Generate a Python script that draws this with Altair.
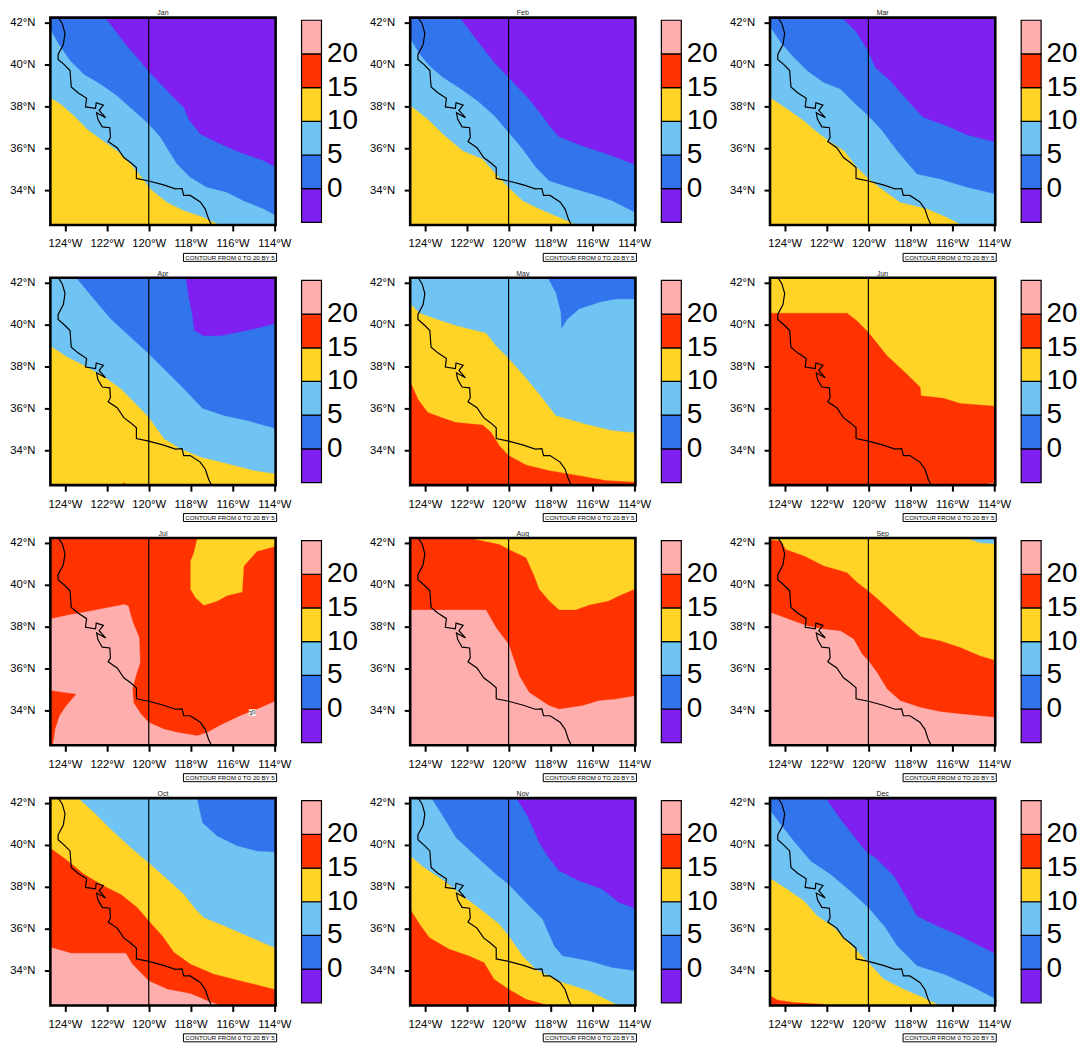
import altair as alt
import pandas as pd

FONT = "Liberation Sans"
COLORS = ["#7f1ff0", "#3274ec", "#70c4f4", "#ffd426", "#ff3300", "#ffaeae"]
BAR_LABELS = ["0", "5", "10", "15", "20"]
LON_TICKS = [-124, -122, -120, -118, -116, -114]
LAT_TICKS = [34, 36, 38, 40, 42]
LON_DOMAIN = [-124.70, -113.94]
LAT_DOMAIN = [32.34, 42.23]
W, E, S, N = -125.0, -113.5, 32.0, 42.5

COAST = [(-124.33,42.25),(-124.13,41.94),(-124.0,41.48),(-124.08,40.95),(-124.33,40.48),(-124.33,40.24),
 (-124.05,40.0),(-123.76,39.71),(-123.73,39.29),(-123.70,38.92),(-123.38,38.65),(-122.97,38.38),(-123.02,37.97),
 (-122.54,37.90),(-122.51,38.17),(-122.17,38.06),(-122.37,37.81),(-122.06,37.46),(-122.49,37.70),(-122.43,37.38),
 (-122.22,37.02),(-121.86,36.98),(-121.83,36.51),(-121.94,36.32),(-121.51,36.03),(-121.19,35.56),(-120.87,35.32),
 (-120.59,35.08),(-120.59,34.56),(-120.0,34.44),(-119.29,34.25),(-118.73,34.06),(-118.41,34.08),(-118.33,33.75),
 (-118.02,33.75),(-117.54,33.44),(-117.30,33.10),(-117.14,32.62),(-116.98,32.29)]

JAN_0 = [(-122.11,42.25),(-121.59,41.59),(-121.11,40.95),(-120.48,40.24),(-120,39.65),(-119.29,38.92),(-118.81,38.41),(-118.33,37.94),(-118.10,37.38),(-117.54,36.67),(-116.75,36.27),(-115.63,35.79),(-114.52,35.40),(-113.92,35.08)]
JAN_5 = [(-124.71,41.67),(-124.29,40.95),(-123.81,40.24),(-123.10,39.52),(-122.30,39.05),(-121.51,38.49),(-120.71,37.78),(-120,37.14),(-119.44,36.51),(-119.05,35.87),(-118.65,35.24),(-118.02,34.60),(-117.22,34.13),(-116.27,33.89),(-115.48,33.49),(-114.52,33.10),(-113.92,32.78)]
JAN_10 = [(-124.71,38.41),(-124.21,38.10),(-123.57,37.54),(-122.94,36.90),(-122.30,36.43),(-121.51,35.87),(-120.87,35.24),(-120.40,34.68),(-119.92,34.05),(-119.13,33.41),(-118.33,33.02),(-117.38,32.70),(-116.51,32.28)]

FEB_0 = [(-122.35,42.25),(-121.79,41.51),(-121.24,40.79),(-120.68,40.08),(-120,39.37),(-119.02,38.33),(-118.46,37.62),(-117.98,36.98),(-117.59,36.54),(-116.48,36.11),(-115.05,35.63),(-113.97,35.21)]
FEB_5 = [(-124.68,41.19),(-124.25,40.48),(-123.78,39.92),(-123.14,39.37),(-122.27,38.81),(-121.48,38.25),(-120.68,37.54),(-120,36.75),(-119.33,35.95),(-118.70,35.08),(-118.06,34.44),(-117.11,34.13),(-116,33.81),(-115.05,33.49),(-113.97,32.94)]
FEB_10 = [(-124.68,38.02),(-123.86,37.38),(-123.14,36.67),(-122.19,35.87),(-121.24,35.48),(-120.60,34.76),(-120,34.13),(-119.33,33.49),(-118.54,33.10),(-117.59,32.70),(-116.63,32.28)]

MAR_0 = [(-121.29,42.25),(-120.62,41.59),(-120.06,40.71),(-119.67,39.84),(-118.95,39.21),(-118.32,38.49),(-117.76,37.86),(-117.37,37.46),(-116.25,37.06),(-115.30,36.63),(-113.90,36.27)]
MAR_5 = [(-124.67,41.75),(-124.19,41.03),(-123.63,40.40),(-122.92,39.68),(-122.13,39.13),(-121.33,38.81),(-120.62,38.10),(-120,37.54),(-119.35,36.83),(-118.63,35.87),(-117.68,34.76),(-116.57,34.52),(-115.30,34.13),(-113.90,33.81)]
MAR_10 = [(-124.67,38.38),(-123.87,37.86),(-123.08,37.30),(-122.44,36.75),(-121.89,36.35),(-121.17,35.87),(-120.54,35.08),(-119.98,34.52),(-119.27,33.97),(-118.48,33.41),(-117.21,33.10),(-116.25,32.70),(-115.46,32.28)]

APR_0 = [(-118.24,42.25),(-118.08,41.21),(-117.92,40.41),(-117.84,39.70),(-117.37,39.46),(-116.57,39.46),(-115.62,39.65),(-114.83,39.81),(-113.90,40.06)]
APR_5 = [(-123.48,42.25),(-122.76,41.37),(-121.81,40.25),(-120.86,39.38),(-120,38.59),(-119.27,37.87),(-118.32,36.92),(-117.44,36.0),(-116.41,35.65),(-115.30,35.41),(-113.90,35.02)]
APR_10 = [(-124.67,38.95),(-123.87,38.43),(-123.08,38.03),(-122.21,37.56),(-121.33,36.92),(-120.54,36.13),(-120,35.57),(-119.27,34.54),(-118.48,34.06),(-117.52,33.67),(-116.41,33.40),(-114.98,33.03),(-113.90,32.87)]
APR_SPOT = [(-121.33,32.30),(-121.17,32.46),(-121.02,32.30)]

MAY_5 = [(-118.14,42.25),(-117.75,41.52),(-117.51,40.57),(-117.48,39.78),(-117.19,40.25),(-116.63,40.73),(-115.68,41.05),(-114.89,41.21),(-113.90,41.21)]
MAY_10 = [(-124.68,40.97),(-124.25,40.54),(-123.46,40.25),(-122.51,39.94),(-121.08,39.59),(-120.60,38.98),(-120,38.38),(-119.33,37.63),(-118.54,36.68),(-117.75,35.65),(-116.32,35.25),(-115.05,34.94),(-113.90,34.83)]
MAY_15 = [(-124.68,37.24),(-124.33,36.44),(-123.86,35.81),(-123.14,35.54),(-122.51,35.33),(-121.24,35.21),(-120.84,34.86),(-120.44,34.22),(-120,33.75),(-119.17,33.30),(-118.06,33.03),(-116.63,32.79),(-115.37,32.56),(-113.90,32.48)]

JUN_15 = [(-124.67,40.54),(-121.02,40.54),(-120.54,40.17),(-120,39.62),(-119.11,38.51),(-118.16,37.63),(-117.52,37.0),(-117.49,36.60),(-116.41,36.48),(-115.62,36.24),(-113.90,36.10)]
JUN_SPOT = [(-114.25,32.30),(-114.25,32.42),(-113.90,32.42),(-113.90,32.30)]

JUL_BLOB = [(-117.68,42.5),(-117.68,42.22),(-117.84,41.52),(-118.0,41.13),(-118.0,39.78),(-117.76,39.38),(-117.37,39.02),(-116.73,39.22),(-116.25,39.49),(-115.54,39.65),(-115.46,40.89),(-114.83,41.60),(-113.90,41.84),(-113.5,41.84),(-113.5,42.5)]
JUL_20 = [(-124.67,38.38),(-123.87,38.54),(-122.76,38.75),(-121.97,38.90),(-121.17,39.06),(-120.98,38.98),(-120.78,38.27),(-120.46,37.48),(-120.41,36.29),(-120.62,35.65),(-120.78,35.02),(-120.73,34.38),(-120.38,33.83),(-120,33.43),(-119.27,33.11),(-118.63,32.95),(-117.68,32.79),(-117.21,32.95),(-116.57,33.30),(-115.62,33.75),(-114.83,34.06),(-113.90,34.46)]
JUL_NOTCH = [(-125,34.94),(-124.67,34.94),(-123.48,34.78),(-123.95,34.22),(-124.27,33.75),(-124.48,33.11),(-124.54,32.63),(-124.67,32.0),(-125,32.0)]

AUG_15 = [(-122.03,42.25),(-121.24,42.08),(-120.44,41.92),(-120,41.68),(-119.17,41.29),(-118.78,40.41),(-118.54,39.78),(-118.06,39.22),(-117.59,38.79),(-116.79,38.79),(-116.16,39.02),(-115.21,39.22),(-114.73,39.46),(-113.90,39.81)]
AUG_20 = [(-124.68,38.79),(-121.08,38.79),(-120.60,37.95),(-120,37.16),(-119.73,36.37),(-119.49,35.65),(-119.02,34.86),(-118.06,34.22),(-117.59,34.06),(-116.48,34.22),(-115.68,34.46),(-114.89,34.54),(-113.90,34.70)]

SEP_10 = [(-115.25,42.5),(-115.25,42.2),(-114.67,42.0),(-113.9,41.95),(-113.5,41.95),(-113.5,42.5)]
SEP_15 = [(-124.67,42.13),(-124.19,42.08),(-123.95,41.68),(-123.08,41.37),(-122.13,40.89),(-121.02,40.57),(-120.54,40.10),(-120,39.70),(-119.27,39.06),(-118.32,38.19),(-117.52,37.52),(-116.57,37.32),(-115.62,37.0),(-114.67,36.60),(-113.90,36.37)]
SEP_20 = [(-124.67,38.67),(-123.71,38.32),(-122.92,38.03),(-122.13,37.87),(-121.33,37.79),(-120.70,37.40),(-120.30,36.68),(-120,36.37),(-119.59,35.81),(-119.11,35.02),(-118.48,34.46),(-117.52,34.14),(-116.57,33.94),(-115.62,33.83),(-113.90,33.67)]

OCT_5 = [(-117.71,42.25),(-117.44,41.05),(-116.73,40.41),(-115.78,39.94),(-114.83,39.70),(-113.90,39.65)]
OCT_10 = [(-123.40,42.25),(-122.60,41.52),(-121.81,40.73),(-120.86,39.86),(-120,39.14),(-119.11,38.35),(-118.32,37.63),(-117.76,36.92),(-117.37,36.52),(-116.41,36.13),(-115.30,35.65),(-113.90,35.05)]
OCT_15 = [(-124.67,39.81),(-123.95,39.30),(-123.08,38.59),(-122.13,38.03),(-121.33,37.63),(-120.54,37.0),(-120,36.37),(-119.35,35.65),(-118.79,34.86),(-118.0,34.30),(-116.89,33.83),(-115.62,33.51),(-113.90,33.08)]
OCT_20 = [(-124.67,35.10),(-123.71,34.83),(-121.10,34.83),(-120.78,34.30),(-120,33.51),(-119.11,33.11),(-118.0,32.90),(-117.21,32.56),(-116.41,32.28)]

NOV_0 = [(-119.65,42.25),(-119.10,41.37),(-118.54,40.10),(-118.14,39.46),(-117.59,38.75),(-116.63,38.27),(-115.52,37.87),(-114.73,37.24),(-113.90,36.95)]
NOV_5 = [(-123.70,42.25),(-123.14,41.37),(-122.51,40.33),(-121.56,39.46),(-120.60,38.59),(-120,38.11),(-119.17,37.24),(-118.38,36.44),(-117.83,35.17),(-117.43,34.70),(-116.16,34.46),(-115.05,34.14),(-113.90,33.98)]
NOV_10 = [(-124.68,39.46),(-124.10,38.95),(-123.14,38.32),(-122.19,37.56),(-121.24,36.84),(-120.44,36.21),(-120,35.65),(-119.33,34.70),(-118.70,34.06),(-117.43,33.43),(-116.16,33.03),(-115.05,32.48),(-114.65,32.28)]
NOV_15 = [(-124.68,36.89),(-124.25,36.21),(-123.78,35.57),(-122.83,35.02),(-121.89,34.70),(-121.17,34.38),(-120.70,33.59),(-120,33.11),(-119.17,32.63),(-117.90,32.28)]

DEC_0 = [(-122.05,42.25),(-121.33,41.21),(-120.70,40.41),(-120.06,39.62),(-119.67,39.38),(-118.79,38.51),(-118.32,37.71),(-117.68,36.60),(-116.73,36.13),(-115.62,35.65),(-114.83,35.25),(-113.90,34.78)]
DEC_5 = [(-124.67,41.60),(-124.19,40.97),(-123.63,40.25),(-122.76,39.22),(-121.81,38.59),(-120.86,37.79),(-120,37.0),(-119.19,36.05),(-118.63,35.17),(-117.68,34.22),(-116.41,33.83),(-114.98,33.19),(-113.90,32.63)]
DEC_10 = [(-124.67,38.38),(-123.87,37.87),(-123.08,37.32),(-122.44,36.60),(-121.73,36.13),(-120.94,35.33),(-120,34.38),(-119.27,33.59),(-118.32,33.11),(-117.37,32.71),(-116.49,32.28)]
DEC_15 = [(-124.67,32.79),(-124.35,32.60),(-123.56,32.48),(-122.13,32.40),(-122.13,32.28)]

MONTHS = [
 ("Jan", 0, [(1, JAN_0, True), (2, JAN_5, True), (3, JAN_10, True)]),
 ("Feb", 0, [(1, FEB_0, True), (2, FEB_5, True), (3, FEB_10, True)]),
 ("Mar", 0, [(1, MAR_0, True), (2, MAR_5, True), (3, MAR_10, True)]),
 ("Apr", 0, [(1, APR_0, True), (2, APR_5, True), (3, APR_10, True), (4, APR_SPOT, False)]),
 ("May", 1, [(2, MAY_5, True), (3, MAY_10, True), (4, MAY_15, True)]),
 ("Jun", 3, [(4, JUN_15, True), (5, JUN_SPOT, False)]),
 ("Jul", 4, [(3, JUL_BLOB, False), (5, JUL_20, True), (4, JUL_NOTCH, False)]),
 ("Aug", 3, [(4, AUG_15, True), (5, AUG_20, True)]),
 ("Sep", 3, [(2, SEP_10, False), (4, SEP_15, True), (5, SEP_20, True)]),
 ("Oct", 1, [(2, OCT_5, True), (3, OCT_10, True), (4, OCT_15, True), (5, OCT_20, True)]),
 ("Nov", 0, [(1, NOV_0, True), (2, NOV_5, True), (3, NOV_10, True), (4, NOV_15, True)]),
 ("Dec", 0, [(1, DEC_0, True), (2, DEC_5, True), (3, DEC_10, True), (4, DEC_15, True)]),
]
W_PX, H_PX = 226, 208
xs = alt.Scale(domain=LON_DOMAIN, nice=False, zero=False)
ys = alt.Scale(domain=LAT_DOMAIN, nice=False, zero=False)
XAX = alt.Axis(values=LON_TICKS, labelExpr="abs(datum.value)+'°W'", grid=False, domain=False, title=None,
               tickSize=6, tickWidth=2, tickColor="black", labelPadding=7, labelFontSize=11.3,
               labelFont=FONT, labelColor="black", labelFlush=False, labelOverlap=False)
YAX = alt.Axis(values=LAT_TICKS, labelExpr="datum.value+'°N'", grid=False, domain=False, title=None,
               tickSize=6, tickWidth=2, tickColor="black", labelPadding=9.5, labelFontSize=11.3,
               labelFont=FONT, labelColor="black", labelFlush=False, labelOverlap=False)
X = alt.X("lon:Q", scale=xs, axis=XAX)
Y = alt.Y("lat:Q", scale=ys, axis=YAX)


def closed(points):
    p = list(points)
    first, last = p[0], p[-1]
    if first[0] <= -124.6:
        head = [(W, first[1])]
    else:
        head = [(first[0], N)]
    if last[0] >= -114.0:
        tail = [(E, last[1]), (E, S), (W, S)]
    else:
        tail = [(last[0], S), (W, S)]
    if first[0] > -124.6:
        tail.append((W, N))
    return head + p + tail


def line_layer(points, **mark):
    df = pd.DataFrame(points, columns=["lon", "lat"])
    df["i"] = range(len(df))
    return alt.Chart(df).mark_line(clip=True, **mark).encode(x=X, y=Y, order="i:Q")


def map_panel(month, base, overlays):
    layers = []
    bg = [(W, S), (E, S), (E, N), (W, N)]
    layers.append(line_layer(bg, fill=COLORS[base], stroke=COLORS[base], strokeWidth=0.2))
    for level, pts, is_open in overlays:
        poly = closed(pts) if is_open else pts
        layers.append(line_layer(poly, fill=COLORS[level], stroke=COLORS[level], strokeWidth=0.3))
    if month == "Jul":
        lab = pd.DataFrame({"lon": [-115.06], "lat": [33.9], "t": ["20"]})
        layers.append(alt.Chart(lab).mark_point(shape="square", filled=True, color="white", size=45, opacity=1).encode(x=X, y=Y))
        layers.append(alt.Chart(lab).mark_text(fontSize=6, font=FONT, color="black", angle=340).encode(x=X, y=Y, text="t:N"))
    layers.append(line_layer(COAST, stroke="black", strokeWidth=1.2))
    layers.append(alt.Chart(pd.DataFrame({"lon": [-120.0]})).mark_rule(color="black", strokeWidth=1.2).encode(x=X))
    src = pd.DataFrame({"lon": [LON_DOMAIN[0]], "lat": [LAT_DOMAIN[0]]})
    layers.append(alt.Chart(src).mark_rect(fillOpacity=0, stroke="black", strokeWidth=2.6).encode(
        x=alt.value(0), x2=alt.value(W_PX), y=alt.value(0), y2=alt.value(H_PX)))
    layers.append(alt.Chart(src).mark_rect(fill="white", stroke="black", strokeWidth=1).encode(
        x=alt.value(133.5), x2=alt.value(227), y=alt.value(236.5), y2=alt.value(244.5)))
    layers.append(alt.Chart(pd.DataFrame({"t": ["CONTOUR FROM 0 TO 20 BY 5"]})).mark_text(
        fontSize=6.2, font=FONT, color="black", align="center", baseline="middle").encode(
        x=alt.value(180.2), y=alt.value(240.8), text="t:N"))
    return alt.layer(*layers).properties(
        width=W_PX, height=H_PX,
        title=alt.TitleParams(month, fontSize=7, font=FONT, fontWeight="normal", color="#222", offset=0),
    )


def bar_panel(width):
    unit = 33.8
    span = H_PX / unit
    dom = [-(span - 6) / 2, 6 + (span - 6) / 2]
    df = pd.DataFrame({"a": list(range(6)), "b": list(range(1, 7)), "c": COLORS})
    ysc = alt.Scale(domain=dom, nice=False, zero=False)
    rect = alt.Chart(df).mark_rect(stroke="black", strokeWidth=1.2).encode(
        x=alt.value(0), x2=alt.value(20),
        y=alt.Y("a:Q", scale=ysc, axis=None), y2="b:Q",
        fill=alt.Fill("c:N", scale=None),
    )
    ldf = pd.DataFrame({"v": [1, 2, 3, 4, 5], "t": BAR_LABELS})
    text = alt.Chart(ldf).mark_text(fontSize=28, font=FONT, color="black", align="left", baseline="middle").encode(
        x=alt.value(25.5), y=alt.Y("v:Q", scale=ysc, axis=None), text="t:N")
    return alt.layer(rect, text).properties(width=width, height=H_PX)


cells = []
for i, (m, b, o) in enumerate(MONTHS):
    cells.append(map_panel(m, b, o))
    cells.append(bar_panel(50 if i % 3 == 2 else 83))

chart = alt.concat(*cells, columns=6, spacing={"row": 53, "column": 26}, bounds="flush", align="each").properties(
    padding={"left": 1.5, "top": -1, "right": 0, "bottom": 0},
).configure_view(stroke=None)
chart.save("out.html", embed_options={"renderer": "svg", "actions": False})
